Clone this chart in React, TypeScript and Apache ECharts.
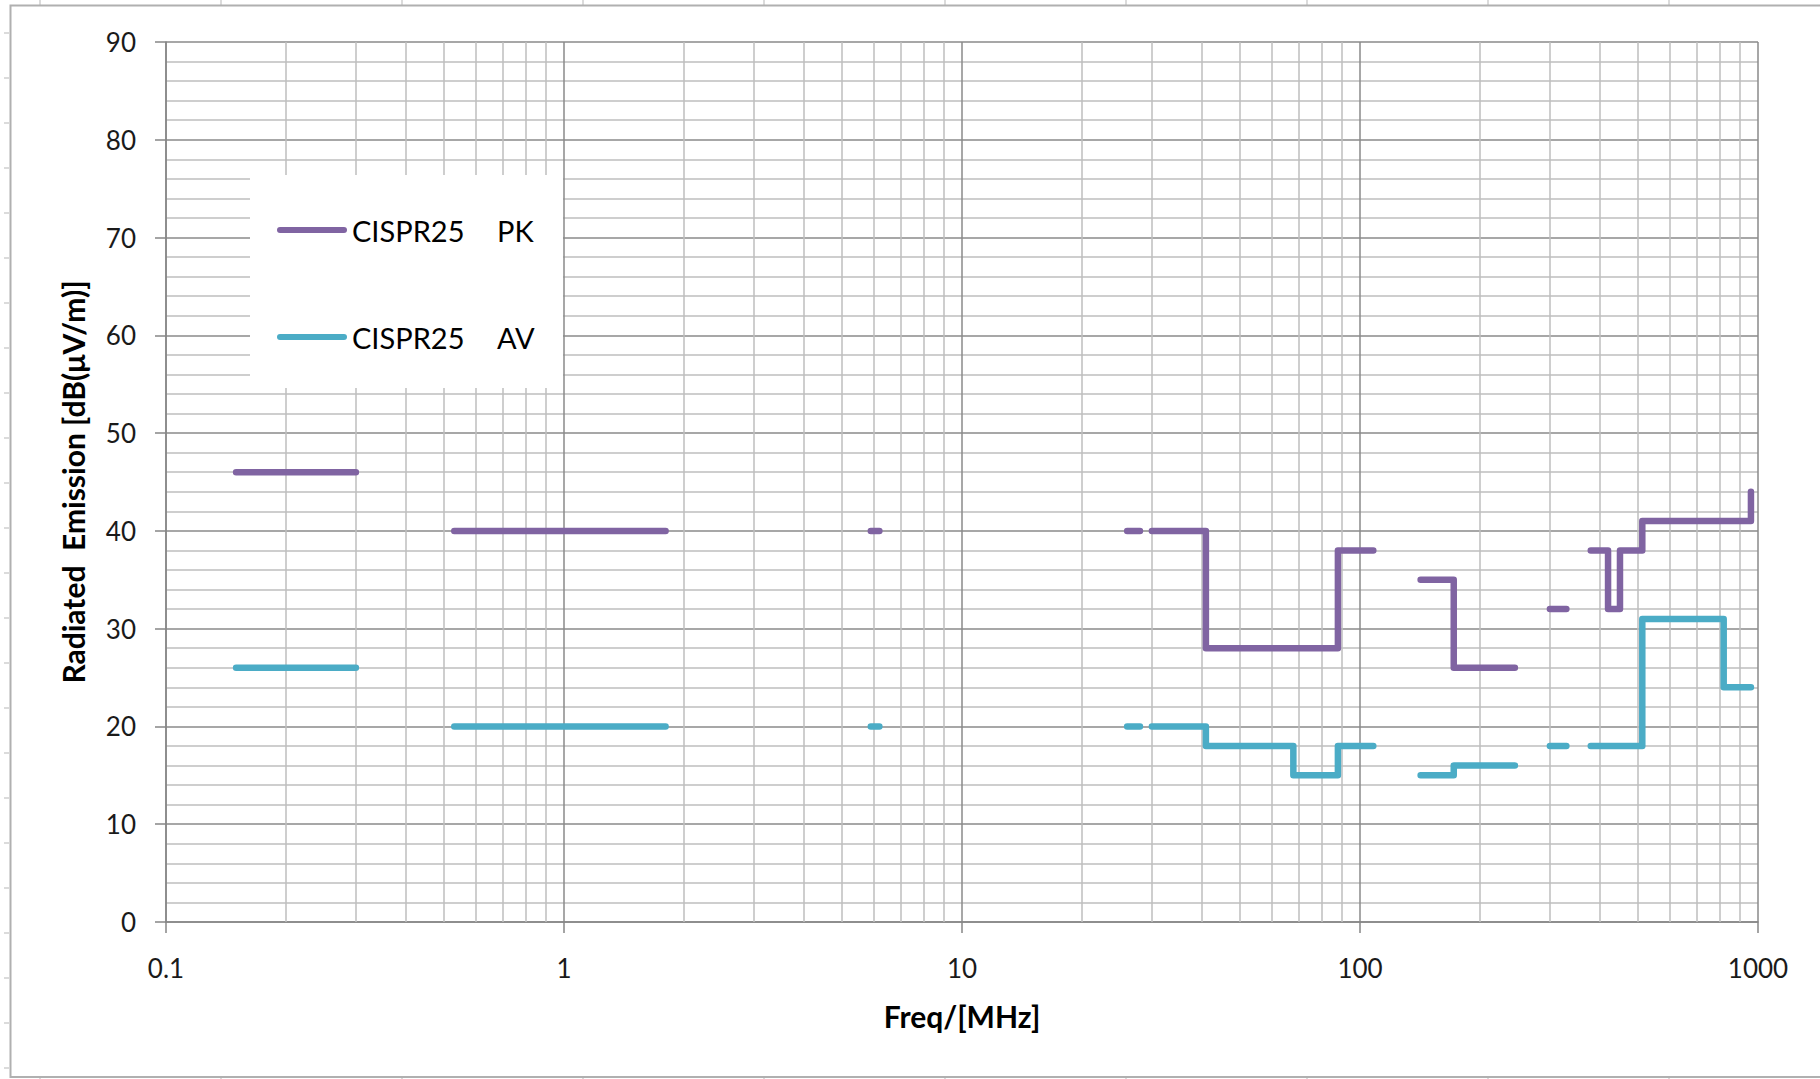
import React, { useEffect, useRef } from "react";
import * as echarts from "echarts";

// ---- data ----
const xTickLabels = ["0.1", "1", "10", "100", "1000"];
const minorMultipliers = [2, 3, 4, 5, 6, 7, 8, 9];
const decades = [0.1, 1, 10, 100];

// CISPR25 peak limit (MHz / dBµV/m); null = gap between bands
const pkFreq = [0.15, 0.3, null, 0.53, 1.8, null, 5.9, 6.2, null, 26, 28, null, 30, 41, 41, 88, 88, 108, null, 142, 172, 172, 245, null, 300, 330, null, 380, 420, 420, 450, 450, 512, 512, 960, 960];
const pkLevel = [46, 46, null, 40, 40, null, 40, 40, null, 40, 40, null, 40, 40, 28, 28, 38, 38, null, 35, 35, 26, 26, null, 32, 32, null, 38, 38, 32, 32, 38, 38, 41, 41, 44];

// CISPR25 average limit
const avFreq = [0.15, 0.3, null, 0.53, 1.8, null, 5.9, 6.2, null, 26, 28, null, 30, 41, 41, 68, 68, 88, 88, 108, null, 142, 172, 172, 245, null, 300, 330, null, 380, 512, 512, 820, 820, 960];
const avLevel = [26, 26, null, 20, 20, null, 20, 20, null, 20, 20, null, 20, 20, 18, 18, 15, 15, 18, 18, null, 15, 15, 16, 16, null, 18, 18, null, 18, 18, 31, 31, 24, 24];

const seriesNames = ["CISPR25 PK", "CISPR25 AV"];
const seriesColors = ["#8064A2", "#4BACC6"];

function toData(f: (number | null)[], v: (number | null)[]) {
  return f.map((x, i) => (x === null || v[i] === null ? ["-", "-"] : [x, v[i]]));
}

const FONT = "Lato";
const LEGEND_ICON = "path://M3,0 L67,0 A3,3 0 0 1 67,6 L3,6 A3,3 0 0 1 3,0 Z";

export default function App() {
  const ref = useRef<HTMLDivElement>(null);

  useEffect(() => {
    if (!ref.current) return;
    const chart = echarts.init(ref.current, undefined, { renderer: "svg" });

    const minorX: number[] = [];
    decades.forEach((d) => minorMultipliers.forEach((m) => minorX.push(+(d * m).toPrecision(3))));

    const cellTicks: any[] = [];
    for (let k = 0; k < 10; k++) {
      const x = 40 + 181 * k;
      cellTicks.push({ type: "line", z: 0, silent: true, shape: { x1: x, y1: 0, x2: x, y2: 5 }, style: { stroke: "#cfcfcf", lineWidth: 1.5 } });
      cellTicks.push({ type: "line", z: 0, silent: true, shape: { x1: x, y1: 1078, x2: x, y2: 1079 }, style: { stroke: "#cfcfcf", lineWidth: 1.5 } });
    }
    for (let k = 0; k < 24; k++) {
      const y = 33 + 45 * k;
      cellTicks.push({ type: "line", z: 0, silent: true, shape: { x1: 4, y1: y, x2: 9, y2: y }, style: { stroke: "#cfcfcf", lineWidth: 1.5 } });
    }

    const option: any = {
      animation: false,
      backgroundColor: "#ffffff",
      grid: { left: 166, top: 42, right: 62, bottom: 157, containLabel: false },
      xAxis: {
        type: "log",
        logBase: 10,
        min: 0.1,
        max: 1000,
        name: "Freq/[MHz]",
        nameLocation: "middle",
        nameGap: 79,
        nameTextStyle: { fontFamily: FONT, fontWeight: "bold", fontSize: 30, color: "#000" },
        axisLine: { show: true, lineStyle: { color: "#868686", width: 1.5 } },
        axisTick: { show: true, length: 11, lineStyle: { color: "#868686", width: 1.5 } },
        axisLabel: {
          margin: 33,
          fontFamily: FONT,
          fontSize: 26,
          color: "#1a1a1a",
          formatter: (v: number) => xTickLabels[Math.round(Math.log10(v)) + 1] ?? "",
        },
        splitLine: { show: true, lineStyle: { color: "#8a8a8a", width: 1.5 } },
      },
      yAxis: {
        type: "value",
        min: 0,
        max: 90,
        interval: 10,
        name: "Radiated  Emission [dB(μV/m)]",
        nameLocation: "middle",
        nameGap: 78,
        nameTextStyle: { fontFamily: FONT, fontWeight: "bold", fontSize: 30, color: "#000" },
        axisLine: { show: true, lineStyle: { color: "#868686", width: 1.5 } },
        axisTick: { show: true, length: 11, lineStyle: { color: "#868686", width: 1.5 } },
        axisLabel: { margin: 30, fontFamily: FONT, fontSize: 26, color: "#1a1a1a" },
        splitLine: { show: true, lineStyle: { color: "#8a8a8a", width: 1.5 } },
        minorTick: { show: false, splitNumber: 5 },
        minorSplitLine: { show: true, lineStyle: { color: "#bebebe", width: 1.5 } },
      },
      legend: {
        data: seriesNames.map((n) => ({ name: n, icon: LEGEND_ICON })),
        orient: "vertical",
        left: 277,
        top: 213,
        padding: 0,
        itemWidth: 70,
        itemHeight: 6,
        itemGap: 73,
        z: 10,
        selectedMode: false,
        textStyle: {
          fontFamily: FONT,
          fontSize: 29,
          color: "#000",
          lineHeight: 34,
          rich: {
            a: { width: 145, fontFamily: FONT, fontSize: 29, color: "#000", lineHeight: 34 },
            b: { fontFamily: FONT, fontSize: 29, color: "#000", lineHeight: 34 },
          },
        },
        formatter: (n: string) => {
          const p = n.split(" ");
          return `{a|${p[0]}}{b|${p[1]}}`;
        },
      },
      graphic: [
        ...cellTicks,
        {
          type: "rect",
          z: 0,
          silent: true,
          shape: { x: 10.5, y: 5.5, width: 2000, height: 1071.5 },
          style: { fill: "none", stroke: "#b0b0b0", lineWidth: 2 },
        },
        {
          type: "rect",
          z: 9,
          silent: true,
          shape: { x: 250, y: 175, width: 313, height: 213 },
          style: { fill: "#ffffff" },
        },
      ],
      series: [
        {
          name: "minor-grid",
          type: "line",
          data: [],
          z: 1,
          silent: true,
          markLine: {
            silent: true,
            symbol: ["none", "none"],
            label: { show: false },
            lineStyle: { color: "#bebebe", width: 1.5, type: "solid" },
            data: minorX.map((v) => ({ xAxis: v })),
          },
        },
        {
          name: seriesNames[0],
          type: "line",
          data: toData(pkFreq, pkLevel),
          showSymbol: false,
          symbol: "none",
          connectNulls: false,
          z: 12,
          color: seriesColors[0],
          itemStyle: { color: seriesColors[0] },
          lineStyle: { color: seriesColors[0], width: 6.5, cap: "round", join: "round" },
        },
        {
          name: seriesNames[1],
          type: "line",
          data: toData(avFreq, avLevel),
          showSymbol: false,
          symbol: "none",
          connectNulls: false,
          z: 12,
          color: seriesColors[1],
          itemStyle: { color: seriesColors[1] },
          lineStyle: { color: seriesColors[1], width: 6.5, cap: "round", join: "round" },
        },
      ],
    };

    chart.setOption(option);
    return () => chart.dispose();
  }, []);

  return (
    <div
      ref={ref}
      style={{ position: "absolute", left: 0, top: 0, width: 1820, height: 1079, background: "#fff" }}
    />
  );
}
